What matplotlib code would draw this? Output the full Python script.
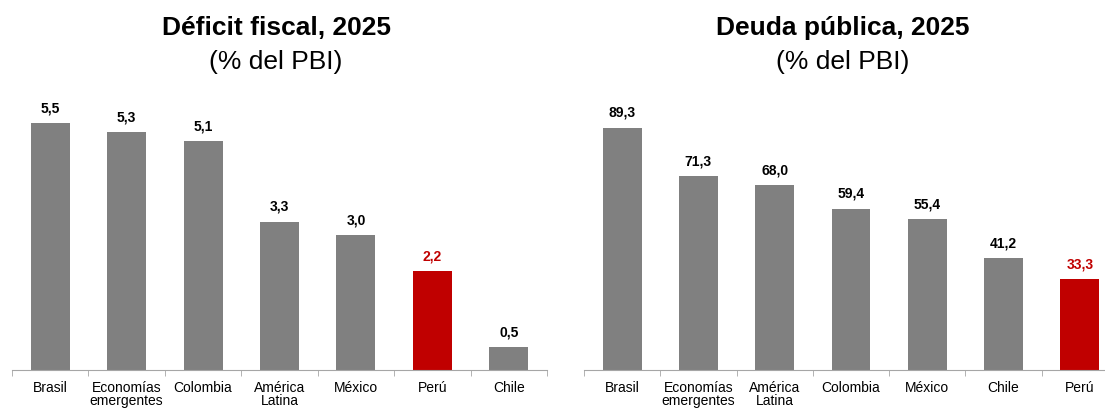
import matplotlib.pyplot as plt

plt.rcParams['font.family'] = ['Liberation Sans', 'DejaVu Sans']

# Déficit fiscal 2025 (% del PBI)
deficit_paises = ['Brasil', 'Economías\nemergentes', 'Colombia', 'América\nLatina',
                  'México', 'Perú', 'Chile']
deficit_valores = [5.5, 5.3, 5.1, 3.3, 3.0, 2.2, 0.5]

# Deuda pública 2025 (% del PBI)
deuda_paises = ['Brasil', 'Economías\nemergentes', 'América\nLatina', 'Colombia',
                'México', 'Chile', 'Perú']
deuda_valores = [89.3, 71.3, 68.0, 59.4, 55.4, 41.2, 33.3]

GRIS = '#808080'
ROJO = '#C00000'

W, H = 1105, 409
fig = plt.figure(figsize=(W / 100, H / 100), dpi=100)


def panel(x0, x1, paises, valores, ymax, offset):
    ax = fig.add_axes([x0 / W, (H - 369.5) / H, (x1 - x0) / W, 269 / H])
    colores = [ROJO if p == 'Perú' else GRIS for p in paises]
    pos = range(len(paises))
    ax.bar(pos, valores, width=0.51, color=colores)
    for i, v in enumerate(valores):
        ax.text(i, v + offset, f'{v:.1f}'.replace('.', ','), ha='center', va='bottom',
                fontsize=10, fontweight='bold', color=colores[i] if colores[i] == ROJO else 'black')
    ax.set_xlim(-0.5, len(paises) - 0.5)
    ax.set_ylim(0, ymax)
    for s in ['top', 'right', 'left']:
        ax.spines[s].set_visible(False)
    ax.spines['bottom'].set_color('#A6A6A6')
    ax.set_yticks([])
    ax.set_xticks(list(pos))
    ax.set_xticklabels(paises, fontsize=10, linespacing=0.95)
    ax.tick_params(axis='x', which='major', length=0, pad=8)
    ax.set_xticks([i - 0.5 for i in range(len(paises) + 1)], minor=True)
    ax.tick_params(axis='x', which='minor', length=4, color='#A6A6A6')
    return ax


panel(12, 547, deficit_paises, deficit_valores, 6.0, 0.17)
panel(584, 1118, deuda_paises, deuda_valores, 99.3, 2.9)

fig.text(276 / W, 1 - 28 / H, 'Déficit fiscal, 2025', ha='center', va='center',
         fontsize=19, fontweight='bold')
fig.text(276 / W, 1 - 62 / H, '(% del PBI)', ha='center', va='center', fontsize=19)
fig.text(843 / W, 1 - 28 / H, 'Deuda pública, 2025', ha='center', va='center',
         fontsize=19, fontweight='bold')
fig.text(843 / W, 1 - 62 / H, '(% del PBI)', ha='center', va='center', fontsize=19)

fig.savefig('out.png', dpi=100)
